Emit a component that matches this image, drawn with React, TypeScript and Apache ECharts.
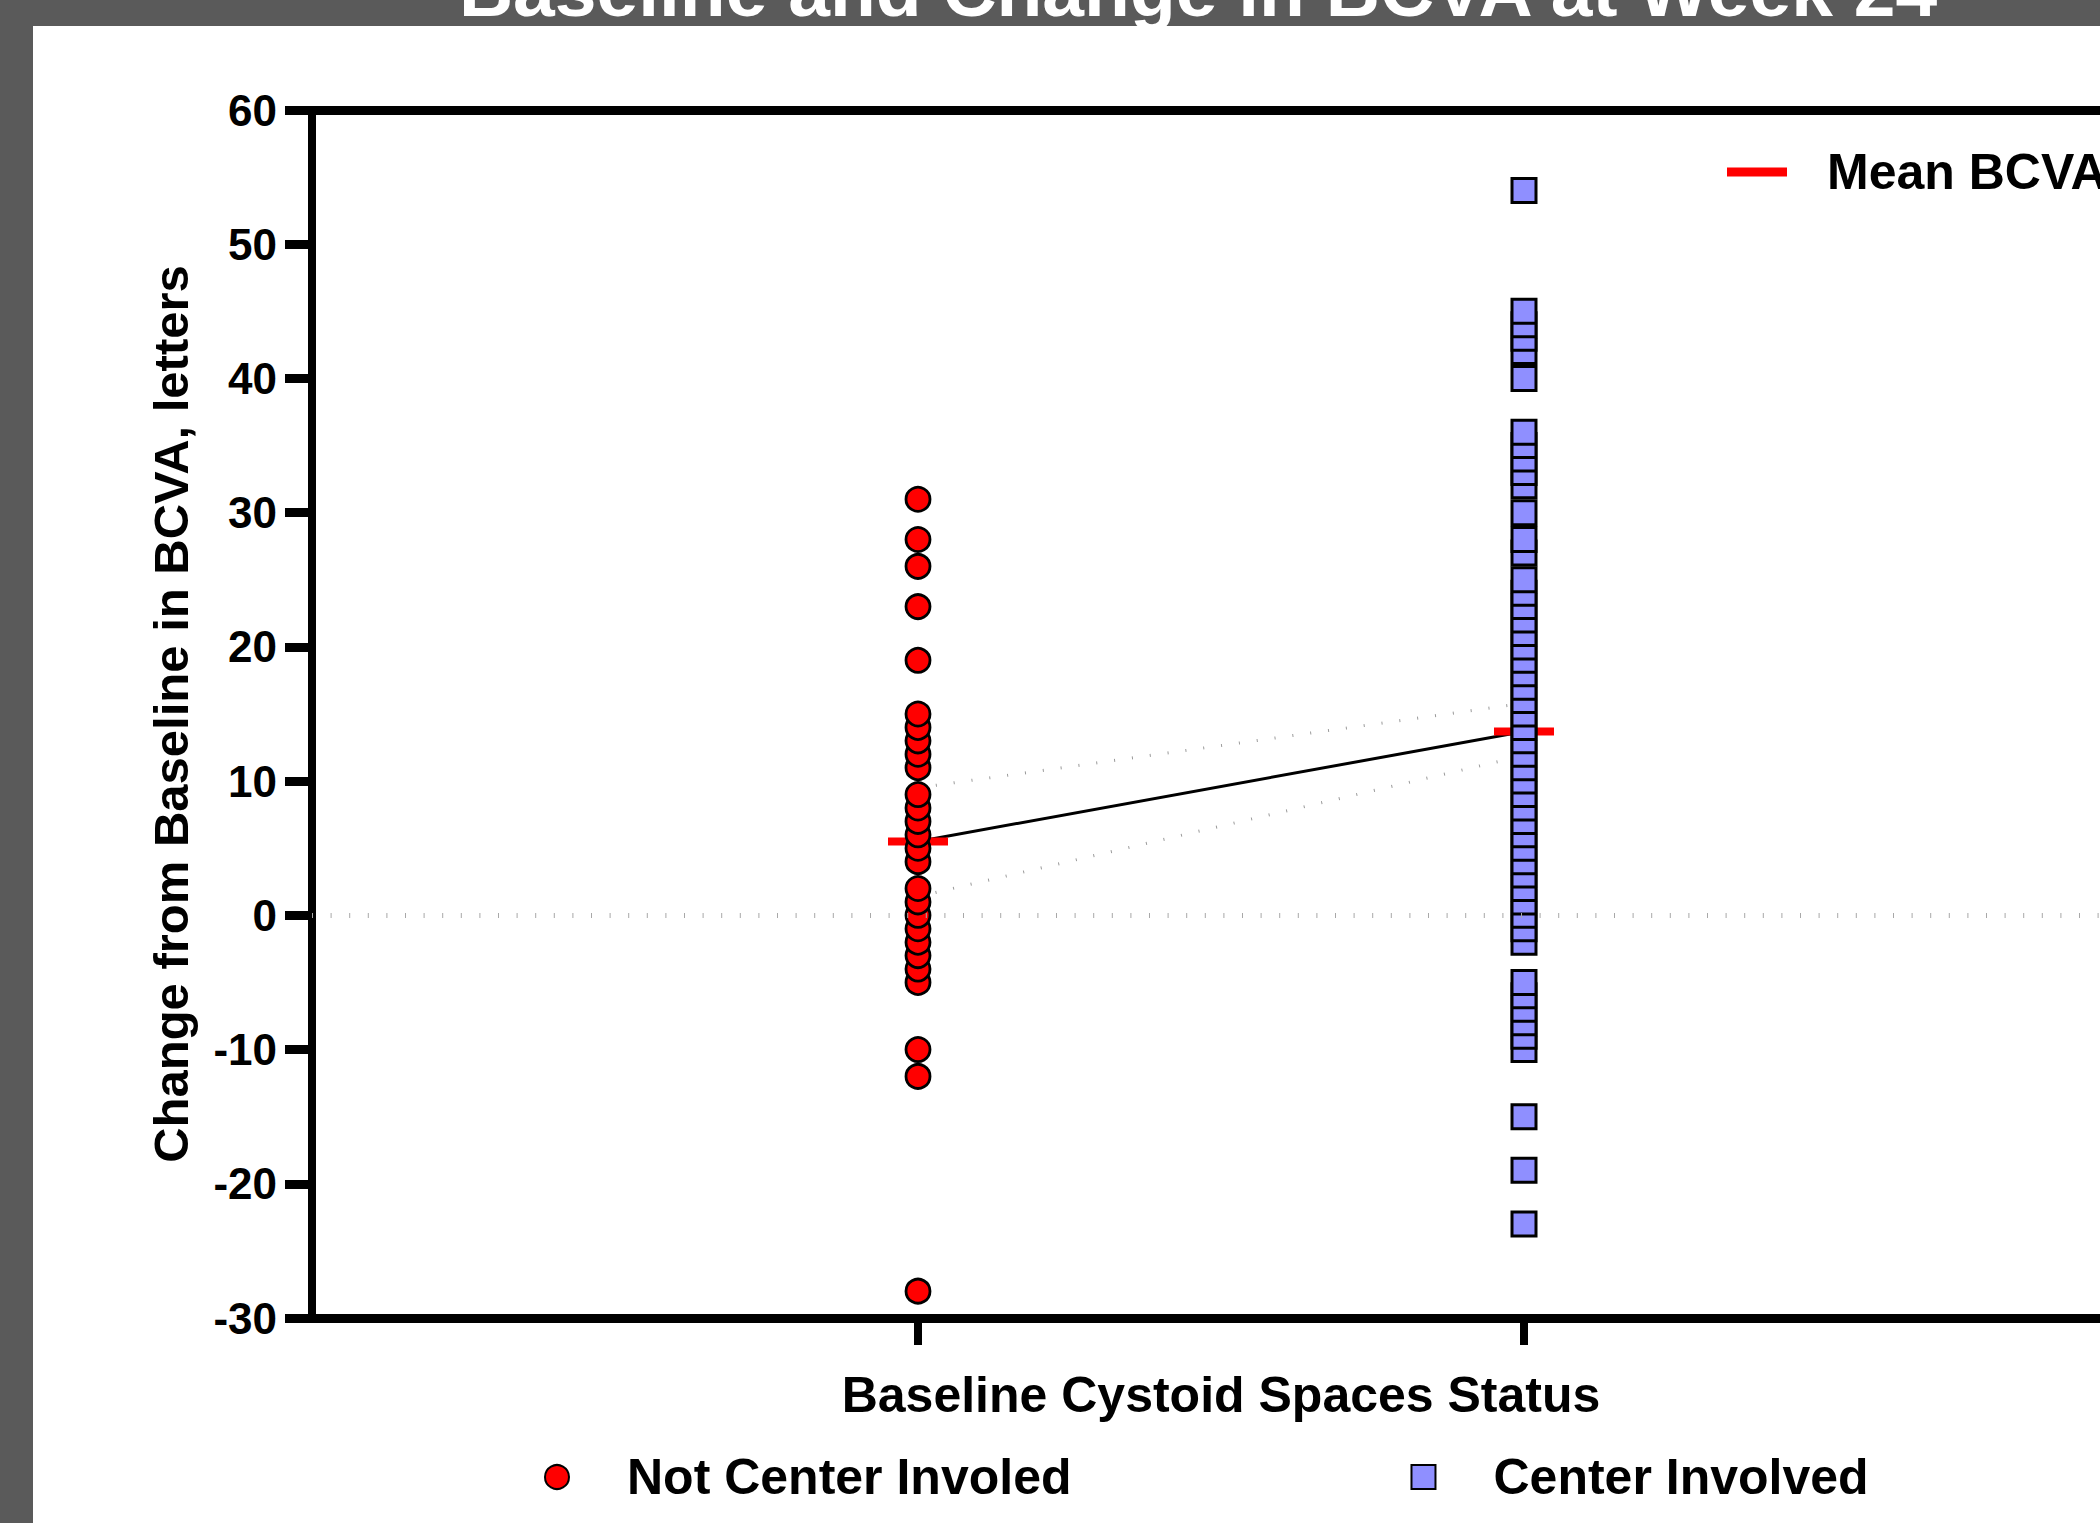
import React, { useEffect, useRef } from "react";
import * as echarts from "echarts";

// ---- Data ----
const groupNames = ["Not Center Involed", "Center Involved"];
const groupX = [1, 2];

// Individual change-from-baseline values (letters), listed in ascending order
const notCenterInvolvedValues = [
  -28, -12, -10, -5, -4, -3, -2, -1, 0, 1, 2, 4, 5, 6, 7, 8, 9, 11, 12, 13, 14,
  15, 19, 23, 26, 28, 31,
];
const centerInvolvedValues = [
  -23, -19, -15, -10, -9, -8, -7, -6, -5, -2, -1, 0, 1, 2, 3, 4, 5, 6, 7, 8, 9,
  10, 11, 12, 13, 14, 15, 16, 17, 18, 19, 20, 21, 22, 23, 24, 25, 27, 28, 30,
  32, 33, 34, 35, 36, 40, 42, 43, 44, 45, 54,
];

// Group means and confidence limits
const meanValues = [5.5, 13.7];
const ciUpperValues = [9.5, 15.8];
const ciLowerValues = [1.4, 11.9];

// Axis settings
const yMin = -30;
const yMax = 60;
const yStep = 10;
const xMin = 0;
const xMax = 3;
const xTickValues = [1, 2];

const titleText = "Baseline and Change in BCVA at Week 24";
const yAxisTitle = "Change from Baseline in BCVA, letters";
const xAxisTitle = "Baseline Cystoid Spaces Status";
const meanLabel = "Mean BCVA";

const FONT = '"Liberation Sans", Arial, Helvetica, sans-serif';

export default function App() {
  const ref = useRef<HTMLDivElement>(null);

  useEffect(() => {
    if (!ref.current) return;
    const chart = echarts.init(ref.current, null, { renderer: "svg" });

    const toPairs = (x: number, vals: number[]) => vals.map((v) => [x, v]);
    const linePairs = (vals: number[]) => groupX.map((x, i) => [x, vals[i]]);

    const boldText = (size: number) => ({
      fontFamily: FONT,
      fontWeight: "bold" as const,
      fontSize: size,
      color: "#000",
    });

    const option: any = {
      animation: false,
      backgroundColor: "#ffffff",
      grid: { left: 312, top: 110, width: 1818, height: 1208, containLabel: false },
      xAxis: [
        {
          type: "value",
          min: xMin,
          max: xMax,
          interval: 1,
          position: "bottom",
          axisLine: { show: true, onZero: false, lineStyle: { color: "#000", width: 9 } },
          axisTick: {
            show: true,
            customValues: xTickValues,
            length: 27,
            lineStyle: { color: "#000", width: 8 },
          },
          axisLabel: { show: false },
          splitLine: { show: false },
          name: xAxisTitle,
          nameLocation: "middle",
          nameGap: 52,
          nameTextStyle: boldText(50),
        },
        {
          type: "value",
          min: xMin,
          max: xMax,
          position: "top",
          axisLine: { show: true, onZero: false, lineStyle: { color: "#000", width: 9 } },
          axisTick: { show: false },
          axisLabel: { show: false },
          splitLine: { show: false },
        },
      ],
      yAxis: {
        type: "value",
        min: yMin,
        max: yMax,
        interval: yStep,
        axisLine: { show: true, onZero: false, lineStyle: { color: "#000", width: 8 } },
        axisTick: { show: true, length: 27, lineStyle: { color: "#000", width: 9 } },
        axisLabel: { margin: 35, ...boldText(44) },
        splitLine: { show: false },
        name: yAxisTitle,
        nameLocation: "middle",
        nameGap: 117,
        nameTextStyle: boldText(49),
      },
      legend: [
        {
          data: groupNames,
          left: 544,
          top: 1452,
          orient: "horizontal",
          itemWidth: 24,
          itemHeight: 24,
          itemGap: 339,
          selectedMode: false,
          padding: 0,
          textStyle: { ...boldText(50), padding: [0, 0, 0, 53] },
        },
        {
          data: [meanLabel],
          left: 1727,
          top: 147,
          itemWidth: 60,
          itemHeight: 9,
          selectedMode: false,
          padding: 0,
          textStyle: { ...boldText(50), padding: [0, 0, 0, 35] },
        },
      ],
      series: [
        {
          name: "CI upper",
          type: "line",
          data: linePairs(ciUpperValues),
          symbol: "none",
          silent: true,
          z: 1,
          lineStyle: { color: "#9a9a9a", width: 3, type: [1, 17] },
          markLine: {
            silent: true,
            symbol: "none",
            label: { show: false },
            lineStyle: { color: "#a8a8a8", width: 5, type: [1, 17.6] },
            data: [{ yAxis: 0 }],
          },
        },
        {
          name: "CI lower",
          type: "line",
          data: linePairs(ciLowerValues),
          symbol: "none",
          silent: true,
          z: 1,
          lineStyle: { color: "#9a9a9a", width: 3, type: [1, 17] },
        },
        {
          name: "Mean connector",
          type: "line",
          data: linePairs(meanValues),
          symbol: "none",
          silent: true,
          z: 1,
          lineStyle: { color: "#000", width: 3 },
        },
        {
          name: meanLabel,
          type: "scatter",
          data: linePairs(meanValues),
          symbol: "rect",
          symbolSize: [60, 8],
          itemStyle: { color: "#ff0000", opacity: 1 },
          silent: true,
          z: 2,
        },
        {
          name: groupNames[0],
          type: "scatter",
          data: toPairs(groupX[0], notCenterInvolvedValues),
          symbol: "circle",
          symbolSize: 24,
          itemStyle: { color: "#ff0000", borderColor: "#000", borderWidth: 2.8, opacity: 1 },
          silent: true,
          z: 3,
        },
        {
          name: groupNames[1],
          type: "scatter",
          data: toPairs(groupX[1], centerInvolvedValues),
          symbol: "rect",
          symbolSize: 24,
          itemStyle: { color: "#8f8fff", borderColor: "#000", borderWidth: 3, opacity: 1 },
          silent: true,
          z: 3,
        },
      ],
      graphic: [
        {
          type: "rect",
          shape: { x: 0, y: 0, width: 33, height: 1523 },
          style: { fill: "#5a5a5a" },
          z: 100,
        },
        {
          type: "rect",
          shape: { x: 0, y: 0, width: 2140, height: 26 },
          style: { fill: "#5a5a5a" },
          z: 100,
        },
        {
          type: "text",
          x: 1198,
          y: -10,
          z: 101,
          style: {
            text: titleText,
            fill: "#ffffff",
            fontFamily: FONT,
            fontWeight: "bold",
            fontSize: 75,
            align: "center",
            verticalAlign: "middle",
            textAlign: "center",
            textVerticalAlign: "middle",
          },
        },
      ],
    };

    chart.setOption(option);
    return () => chart.dispose();
  }, []);

  return (
    <div
      style={{
        position: "fixed",
        left: 0,
        top: 0,
        width: 2100,
        height: 1523,
        overflow: "hidden",
        background: "#fff",
      }}
    >
      <div ref={ref} style={{ width: 2140, height: 1523 }} />
    </div>
  );
}
